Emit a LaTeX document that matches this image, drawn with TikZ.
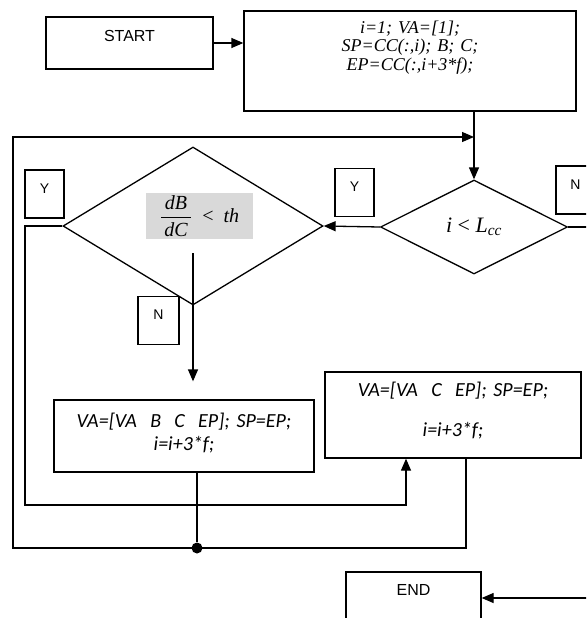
\documentclass[tikz,border=0pt]{standalone}
\usepackage{fix-cm}
\usepackage{amsmath}
\usepackage{fontspec}
\usepackage{tikz}
\usetikzlibrary{shapes.geometric,arrows.meta,positioning,calc}
\newfontfamily\arialfont{Liberation Sans}
\newfontfamily\timesfont{Liberation Serif}
\newfontfamily\calibrifont{Carlito}
\definecolor{fcGrey}{HTML}{D9D9D9}
\tikzset{
    fcBase/.style={
        rectangle,
        draw=black,
        line width=1.3pt,
        inner sep=0pt,
        align=center
    },
    % Terminals and steps
    terminal/.style={fcBase, minimum width=167pt, minimum height=52pt,
        font=\arialfont\fontsize{16}{19}\selectfont, text depth=14pt},
    stepbox/.style={fcBase, font=\calibrifont\itshape\fontsize{20}{23}\selectfont},
    decision/.style={diamond, draw=black, line width=1.3pt, inner sep=0pt},
    answer/.style={fcBase, minimum width=39pt, minimum height=48pt,
        font=\arialfont\fontsize{14}{16}\selectfont, text depth=11pt},
    % Connectors
    flow/.style={line width=1.3pt},
    flowArrow/.style={flow, -{Triangle[length=12pt,width=10pt]}},
    junction/.style={circle, fill=black, inner sep=0pt, minimum size=11pt}
}
\begin{document}
\begin{tikzpicture}[x=1pt, y=-1pt]
    \clip (0,0) rectangle (586,618);

    \node[terminal] (start) at (129.5,43) {START};
    \node[fcBase, minimum width=332pt, minimum height=100pt, text width=300pt, text depth=68pt,
        font=\timesfont\itshape\fontsize{18}{18.5}\selectfont]
        (init) at (410,61) {i=1; VA=[1];\\ SP=CC(:,i); B; C;\\ EP=CC(:,i+3*f);};

    \node[decision, minimum width=187pt, minimum height=94pt,
        font=\timesfont\fontsize{22}{24}\selectfont]
        (cond) at (474,227) {\textit{i} < \textit{L}\textsubscript{\textit{cc}}};
    \node[decision, minimum width=260pt, minimum height=158pt] (dbtest) at (193,226) {};
    \node[fill=fcGrey, minimum width=107pt, minimum height=46pt, inner sep=0pt,
        font=\timesfont\fontsize{20}{22}\selectfont]
        (ratio) at (199.5,216) {$\dfrac{\,\textit{dB}\,}{\,\textit{dC}\,}$~~<~~\textit{th}};

    \node[answer] (yesL) at (44.5,194) {Y};
    \node[answer] (yesM) at (354.5,192.5) {Y};
    \node[answer] (noR) at (575.5,190) {N};
    \node[answer, minimum width=41pt] (noB) at (158.5,320.5) {N};

    \node[stepbox, minimum width=260pt, minimum height=72pt, text width=250pt, text depth=32pt]
        (updA) at (184,436) {VA=[VA~~B~~C~~EP]; SP=EP;\\ i=i+3*f;};
    \node[stepbox, minimum width=256pt, minimum height=86pt, text width=246pt, text depth=52pt]
        (updB) at (453,415) {VA=[VA~~C~~EP]; SP=EP;\\[17pt] i=i+3*f;};
    \node[terminal, minimum width=135pt, text depth=16pt] (finish) at (413.5,598) {END};

    \node[junction] (join) at (197,548) {};
    \coordinate (outerB) at (466,548);
    \coordinate (outerL) at (13,137);
    \coordinate (innerL) at (25,505);
    \coordinate (innerR) at (406,505);
    \coordinate (nTop) at (193,253);
    \coordinate (rightRail) at (620,0);

    \draw[flowArrow] (start.east) -- (start.east -| init.west);
    \draw[flowArrow] (cond.north |- init.south) -- (cond.north);
    \draw[flowArrow] (cond.west) -- (dbtest.east);
    \draw[flowArrow] (cond.east) -- (cond.east -| rightRail) |- (finish.east);
    \draw[flowArrow] (nTop) -- ([yshift=18pt]updA.north -| nTop);
    \draw[flowArrow] (dbtest.west) -| (innerL) -| (updB.south -| innerR);
    \draw[flow] (updA.south -| join) -- (join);
    \draw[flowArrow] (updB.south -| outerB) -- (outerB) -| (outerL) -- (outerL -| cond.north);
\end{tikzpicture}
\end{document}
